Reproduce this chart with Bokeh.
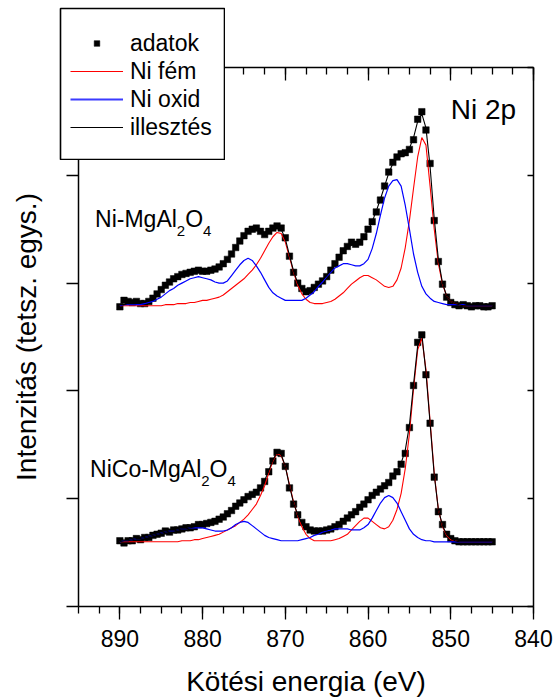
import numpy as np
from bokeh.plotting import figure
from bokeh.models import (Range1d, LinearAxis, SingleIntervalTicker, Legend,
                          LegendItem, Label, ColumnDataSource, GridBox)
from bokeh.embed import file_html
from bokeh.resources import INLINE

# Binding energy grid (eV), 0.5 eV step, 890 -> 845
energy = np.arange(890.0, 844.75, -0.5)

# ---- Ni-MgAl2O4 (upper spectrum) ----
ni_data = [2.78, 2.84, 2.83, 2.82, 2.83, 2.81, 2.81, 2.83, 2.86, 2.90,
           2.94, 2.98, 3.01, 3.04, 3.06, 3.08, 3.09, 3.10, 3.11, 3.12,
           3.11, 3.11, 3.12, 3.13, 3.15, 3.18, 3.22, 3.27, 3.33, 3.39,
           3.44, 3.48, 3.50, 3.51, 3.48, 3.45, 3.48, 3.51, 3.53, 3.51,
           3.42, 3.25, 3.10, 3.00, 2.95, 2.92, 2.93, 2.96, 2.99, 3.02,
           3.06, 3.12, 3.18, 3.24, 3.30, 3.34, 3.38, 3.36, 3.38, 3.43,
           3.50, 3.57, 3.66, 3.77, 3.90, 4.03, 4.12, 4.17, 4.20, 4.21,
           4.24, 4.33, 4.52, 4.59, 4.42, 4.11, 3.58, 3.20, 2.99, 2.87,
           2.82, 2.80, 2.79, 2.80, 2.79, 2.78, 2.79, 2.79, 2.78, 2.78,
           2.79]
ni_fem = [2.79, 2.79, 2.79, 2.79, 2.79, 2.79, 2.79, 2.79, 2.79, 2.79,
          2.79, 2.80, 2.80, 2.80, 2.81, 2.81, 2.81, 2.82, 2.82, 2.83,
          2.84, 2.84, 2.85, 2.86, 2.87, 2.89, 2.92, 2.95, 2.98, 3.01,
          3.04, 3.08, 3.12, 3.17, 3.23, 3.30, 3.37, 3.43, 3.47, 3.46,
          3.38, 3.24, 3.10, 2.98, 2.90, 2.85, 2.82, 2.81, 2.81, 2.81,
          2.82, 2.83, 2.85, 2.88, 2.91, 2.95, 2.99, 3.02, 3.05, 3.07,
          3.07, 3.05, 3.03, 3.00, 2.97, 2.96, 2.97, 3.03, 3.14, 3.33,
          3.58, 3.88, 4.17, 4.35, 4.28, 3.90, 3.50, 3.18, 2.99, 2.88,
          2.83, 2.81, 2.80, 2.79, 2.79, 2.79, 2.79, 2.79, 2.79, 2.79,
          2.79]
ni_oxid = [2.79, 2.80, 2.80, 2.80, 2.80, 2.80, 2.81, 2.82, 2.83, 2.85,
           2.87, 2.90, 2.93, 2.95, 2.98, 3.00, 3.02, 3.04, 3.05, 3.06,
           3.05, 3.04, 3.03, 3.01, 3.00, 3.00, 3.02, 3.07, 3.12, 3.17,
           3.21, 3.23, 3.21, 3.16, 3.10, 3.03, 2.96, 2.91, 2.88, 2.86,
           2.84, 2.84, 2.84, 2.84, 2.84, 2.86, 2.89, 2.92, 2.97, 3.01,
           3.06, 3.10, 3.14, 3.16, 3.18, 3.18, 3.17, 3.16, 3.16, 3.18,
           3.22, 3.32, 3.46, 3.63, 3.79, 3.90, 3.95, 3.96, 3.90, 3.72,
           3.50, 3.27, 3.10, 2.97, 2.90, 2.86, 2.83, 2.82, 2.81, 2.80,
           2.80, 2.80, 2.80, 2.80, 2.79, 2.79, 2.79, 2.79, 2.79, 2.79,
           2.79]
ni_fit = [2.80, 2.80, 2.81, 2.81, 2.81, 2.82, 2.82, 2.84, 2.86, 2.89,
          2.93, 2.97, 3.00, 3.03, 3.06, 3.08, 3.09, 3.10, 3.11, 3.11,
          3.11, 3.11, 3.12, 3.13, 3.15, 3.18, 3.22, 3.27, 3.33, 3.39,
          3.44, 3.48, 3.50, 3.50, 3.48, 3.47, 3.49, 3.52, 3.53, 3.50,
          3.41, 3.26, 3.11, 3.00, 2.94, 2.92, 2.93, 2.96, 2.99, 3.03,
          3.07, 3.12, 3.18, 3.24, 3.29, 3.33, 3.35, 3.37, 3.39, 3.43,
          3.49, 3.57, 3.67, 3.78, 3.90, 4.02, 4.11, 4.16, 4.19, 4.21,
          4.25, 4.35, 4.50, 4.57, 4.44, 4.08, 3.60, 3.22, 3.00, 2.88,
          2.83, 2.81, 2.80, 2.79, 2.79, 2.79, 2.79, 2.79, 2.79, 2.79,
          2.79]

# ---- NiCo-MgAl2O4 (lower spectrum) ----
nico_data = [0.61, 0.59, 0.61, 0.61, 0.63, 0.62, 0.64, 0.64, 0.66, 0.67,
             0.68, 0.70, 0.69, 0.71, 0.71, 0.72, 0.73, 0.73, 0.74, 0.76,
             0.76, 0.77, 0.78, 0.79, 0.81, 0.83, 0.86, 0.89, 0.93, 0.96,
             0.99, 1.02, 1.04, 1.06, 1.10, 1.16, 1.25, 1.35, 1.43, 1.42,
             1.30, 1.10, 0.95, 0.85, 0.78, 0.74, 0.71, 0.70, 0.70, 0.70,
             0.71, 0.72, 0.74, 0.76, 0.79, 0.82, 0.85, 0.88, 0.92, 0.95,
             0.99, 1.03, 1.06, 1.09, 1.12, 1.15, 1.21, 1.25, 1.32, 1.42,
             1.66, 2.05, 2.45, 2.52, 2.15, 1.70, 1.20, 0.88, 0.76, 0.67,
             0.63, 0.61, 0.60, 0.60, 0.60, 0.60, 0.60, 0.60, 0.60, 0.60,
             0.60]
nico_fem = [0.60, 0.60, 0.60, 0.60, 0.60, 0.60, 0.60, 0.60, 0.60, 0.60,
            0.60, 0.60, 0.60, 0.60, 0.60, 0.61, 0.61, 0.61, 0.62, 0.62,
            0.63, 0.64, 0.65, 0.66, 0.67, 0.69, 0.71, 0.73, 0.75, 0.78,
            0.81, 0.85, 0.90, 0.95, 1.03, 1.12, 1.24, 1.35, 1.42, 1.40,
            1.30, 1.13, 0.97, 0.84, 0.74, 0.67, 0.63, 0.61, 0.61, 0.61,
            0.61, 0.61, 0.62, 0.63, 0.65, 0.67, 0.71, 0.75, 0.79, 0.82,
            0.82, 0.79, 0.76, 0.73, 0.72, 0.74, 0.80, 0.90, 1.05, 1.28,
            1.60, 2.02, 2.38, 2.49, 2.20, 1.72, 1.24, 0.90, 0.74, 0.66,
            0.62, 0.61, 0.60, 0.60, 0.60, 0.60, 0.60, 0.60, 0.60, 0.60,
            0.60]
nico_oxid = [0.60, 0.61, 0.61, 0.62, 0.63, 0.63, 0.64, 0.65, 0.66, 0.67,
             0.68, 0.69, 0.70, 0.70, 0.71, 0.72, 0.72, 0.73, 0.73, 0.73,
             0.73, 0.72, 0.71, 0.70, 0.70, 0.70, 0.71, 0.73, 0.76, 0.78,
             0.79, 0.78, 0.75, 0.72, 0.69, 0.66, 0.64, 0.63, 0.62, 0.61,
             0.61, 0.61, 0.61, 0.61, 0.62, 0.63, 0.64, 0.66, 0.67, 0.69,
             0.70, 0.71, 0.72, 0.72, 0.72, 0.72, 0.71, 0.71, 0.71, 0.73,
             0.76, 0.82, 0.89, 0.96, 1.01, 1.03, 1.01, 0.96, 0.88, 0.80,
             0.72, 0.67, 0.64, 0.62, 0.61, 0.61, 0.60, 0.60, 0.60, 0.60,
             0.60, 0.60, 0.60, 0.60, 0.60, 0.60, 0.60, 0.60, 0.60, 0.60,
             0.60]
nico_fit = [0.60, 0.61, 0.61, 0.62, 0.63, 0.63, 0.64, 0.65, 0.66, 0.67,
            0.68, 0.69, 0.70, 0.70, 0.71, 0.72, 0.72, 0.73, 0.74, 0.75,
            0.76, 0.77, 0.78, 0.79, 0.81, 0.83, 0.86, 0.89, 0.93, 0.96,
            0.99, 1.02, 1.04, 1.07, 1.11, 1.17, 1.26, 1.36, 1.43, 1.41,
            1.30, 1.12, 0.96, 0.85, 0.77, 0.73, 0.71, 0.70, 0.70, 0.70,
            0.71, 0.72, 0.74, 0.76, 0.79, 0.82, 0.85, 0.88, 0.91, 0.95,
            0.98, 1.02, 1.05, 1.09, 1.12, 1.16, 1.20, 1.25, 1.33, 1.45,
            1.68, 2.06, 2.42, 2.53, 2.17, 1.70, 1.22, 0.90, 0.75, 0.67,
            0.63, 0.61, 0.60, 0.60, 0.60, 0.60, 0.60, 0.60, 0.60, 0.60,
            0.60]

legend_labels = ["adatok", "Ni fém", "Ni oxid", "illesztés"]
x_title = "Kötési energia (eV)"
y_title = "Intenzitás (tetsz. egys.)"

FONT = "Liberation Sans"

p = figure(width=555, height=700, x_range=Range1d(895, 840), y_range=Range1d(0, 5),
           output_backend="svg", toolbar_location=None,
           x_axis_location=None, y_axis_location=None,
           min_border_left=78, min_border_right=22, min_border_top=67,
           min_border_bottom=94)
p.outline_line_color = None
p.background_fill_color = "white"
p.border_fill_color = "white"
p.grid.visible = False


def add_spectrum(data, fem, oxid, fit):
    src = ColumnDataSource(dict(e=energy, d=data, r=fem, b=oxid, f=fit))
    p.scatter("e", "d", source=src, marker="square", size=6.5,
              fill_color="black", line_color="black", line_width=0.5)
    p.line("e", "r", source=src, line_color="#ff0000", line_width=1.1)
    p.line("e", "b", source=src, line_color="#0000ff", line_width=1.2)
    p.line("e", "f", source=src, line_color="black", line_width=1.1)
    return src


src_top = add_spectrum(ni_data, ni_fem, ni_oxid, ni_fit)
src_bot = add_spectrum(nico_data, nico_fem, nico_oxid, nico_fit)


def style(ax, labelled=False):
    ax.axis_line_color = "black"
    ax.axis_line_width = 1.5
    ax.major_tick_line_color = "black"
    ax.major_tick_line_width = 1.3
    ax.minor_tick_line_color = "black"
    ax.minor_tick_line_width = 1.3
    ax.major_label_text_font = FONT
    ax.major_label_text_color = "black"
    ax.axis_label_text_font = FONT
    ax.axis_label_text_font_style = "normal"
    ax.axis_label_text_color = "black"
    if not labelled:
        ax.major_label_text_alpha = 0
        ax.major_label_text_font_size = "1px"
        ax.major_label_standoff = 0


xticker = SingleIntervalTicker(interval=10, num_minor_ticks=4)
yticker = SingleIntervalTicker(interval=1, num_minor_ticks=0)

xb = LinearAxis(ticker=xticker, axis_label=x_title)
style(xb, labelled=True)
xb.major_tick_out = 13
xb.major_tick_in = 0
xb.minor_tick_out = 7
xb.minor_tick_in = 0
xb.major_label_text_font_size = "23px"
xb.major_label_standoff = 10
xb.axis_label_text_font_size = "28px"
xb.axis_label_standoff = 16
p.add_layout(xb, "below")

xa = LinearAxis(ticker=xticker)
style(xa)
xa.major_tick_out = 0
xa.major_tick_in = 13
xa.minor_tick_out = 0
xa.minor_tick_in = 7
p.add_layout(xa, "above")

yl = LinearAxis(ticker=yticker, axis_label=y_title)
style(yl)
yl.major_tick_out = 12
yl.major_tick_in = 0
yl.minor_tick_out = 0
yl.minor_tick_in = 0
yl.axis_label_text_font_size = "28px"
yl.axis_label_standoff = 25
p.add_layout(yl, "left")

yr = LinearAxis(ticker=yticker)
style(yr)
yr.major_tick_out = 0
yr.major_tick_in = 6
yr.minor_tick_out = 0
yr.minor_tick_in = 0
p.add_layout(yr, "right")

# Annotations (vertically centred on the capital letters)
p.add_layout(Label(x=850, y=4.608, text="Ni 2p", text_font=FONT,
                   text_font_size="28px", text_color="black",
                   text_baseline="middle"))


def formula(x, y, prefix):
    main = 23
    sub = 15
    w_prefix = {"Ni-MgAl": 3.555, "NiCo-MgAl": 4.833}[prefix] * main
    pieces = [(prefix, 0, 0, main),
              ("2", w_prefix, -12, sub),
              ("O", w_prefix + 0.556 * sub, 0, main),
              ("4", w_prefix + 0.556 * sub + 0.778 * main, -12, sub)]
    for txt, dx, dy, fs in pieces:
        p.add_layout(Label(x=x, y=y, x_offset=dx, y_offset=dy, text=txt,
                           text_font=FONT, text_font_size=f"{fs}px",
                           text_color="black", text_baseline="middle"))


formula(893.0, 3.595, "Ni-MgAl")
formula(893.6, 1.274, "NiCo-MgAl")

# ---- Legend box: overlaps the top-left corner of the plot frame ----
lf = figure(width=166, height=153, x_range=Range1d(0, 1), y_range=Range1d(0, 1),
            output_backend="svg", toolbar_location=None,
            x_axis_location=None, y_axis_location=None,
            min_border_left=1, min_border_right=1, min_border_top=1,
            min_border_bottom=1)
lf.grid.visible = False
lf.outline_line_color = "black"
lf.outline_line_width = 1.6
lf.background_fill_color = "white"
lf.border_fill_color = "white"

# legend glyphs reuse the spectrum source; its values lie outside this
# little figure's ranges, so only the legend samples are visible here
g_dat = lf.scatter("e", "d", source=src_top, marker="square", size=5.5,
                   fill_color="black", line_color="black", line_width=0.5)
g_fem = lf.line("e", "r", source=src_top, line_color="#ff0000", line_width=1.1)
g_ox = lf.line("e", "b", source=src_top, line_color="#3b3bff", line_width=1.8)
g_fit = lf.line("e", "f", source=src_top, line_color="black", line_width=1.1)

leg = Legend(items=[LegendItem(label=legend_labels[0], renderers=[g_dat]),
                    LegendItem(label=legend_labels[1], renderers=[g_fem]),
                    LegendItem(label=legend_labels[2], renderers=[g_ox]),
                    LegendItem(label=legend_labels[3], renderers=[g_fit])],
             location=(10, 18), padding=0, margin=0, spacing=0,
             glyph_width=53, glyph_height=14, label_height=28,
             label_standoff=7, label_text_font=FONT,
             label_text_font_size="23px", label_text_color="black",
             border_line_color=None, background_fill_alpha=0)
lf.add_layout(leg)

layout = GridBox(children=[(p, 0, 0, 3, 3), (lf, 1, 1)],
                 rows=["7px", "153px", "540px"],
                 cols=["59px", "166px", "330px"])

open("out.html", "w").write(file_html(layout, INLINE))
